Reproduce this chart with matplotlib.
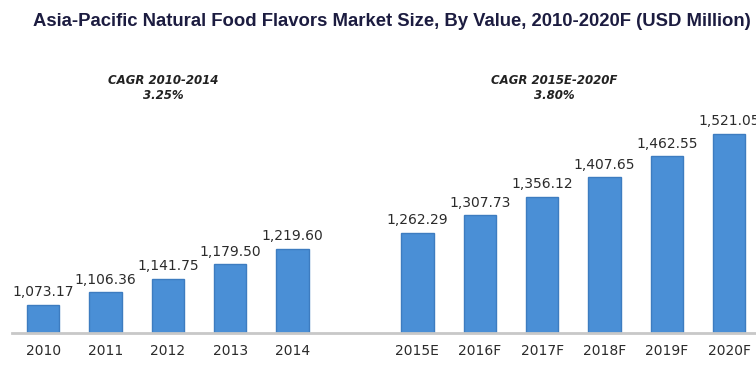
import numpy as np
import matplotlib.pyplot as plt

# Market size in USD million
years = ['2010', '2011', '2012', '2013', '2014',
         '2015E', '2016F', '2017F', '2018F', '2019F', '2020F']
values = [1073.17, 1106.36, 1141.75, 1179.50, 1219.60,
          1262.29, 1307.73, 1356.12, 1407.65, 1462.55, 1521.05]
# one empty slot between historic and forecast groups
slots = [0, 1, 2, 3, 4, 6, 7, 8, 9, 10, 11]
cagr_labels = ['CAGR 2010-2014\n3.25%', 'CAGR 2015E-2020F\n3.80%']

W, H = 756, 367
fig = plt.figure(figsize=(W / 100, H / 100), dpi=100)
fig.patch.set_facecolor('white')

# axes box in pixels: left 12, right 756, bottom at baseline 333, top 60
ax = fig.add_axes([12 / W, (H - 333) / H, (756 - 12) / W, (333 - 60) / H])
ax.set_xlim(-0.5, 11.43)
ybot = 1000
ytop = ybot + (333 - 60) / 0.3825
ax.set_ylim(ybot, ytop)

ax.bar(slots, np.array(values) - ybot, bottom=ybot, width=0.52,
       color='#4a8fd6', edgecolor='#3d7cc0', linewidth=1.0, zorder=2)

for x, v in zip(slots, values):
    ax.annotate(f'{v:,.2f}', (x, v), xytext=(0, 4), textcoords='offset points',
                ha='center', va='bottom', fontsize=10, color='#2b2b2b')

ax.set_xticks(slots)
ax.set_xticklabels(years, fontsize=10, color='#2b2b2b')
ax.tick_params(axis='x', length=0, pad=8)
ax.set_yticks([])
for s in ['top', 'right', 'left']:
    ax.spines[s].set_visible(False)
ax.spines['bottom'].set_color('#c8c8c8')
ax.spines['bottom'].set_linewidth(2)

# CAGR annotations over each group
cagr_y = ybot + (333 - 88) / 0.3825
for xc, txt in zip([1.92, 8.2], cagr_labels):
    ax.text(xc, cagr_y, txt, ha='center', va='center',
            fontsize=8.5, fontweight='bold', fontstyle='italic', color='#222222',
            linespacing=1.25)

fig.text(392 / W, 1 - 21 / H,
         'Asia-Pacific Natural Food Flavors Market Size, By Value, 2010-2020F (USD Million)',
         ha='center', va='center', fontsize=13.3, fontweight='bold',
         color='#1c1c40', family=['Liberation Sans', 'DejaVu Sans'])

fig.savefig('out.png', dpi=100)
